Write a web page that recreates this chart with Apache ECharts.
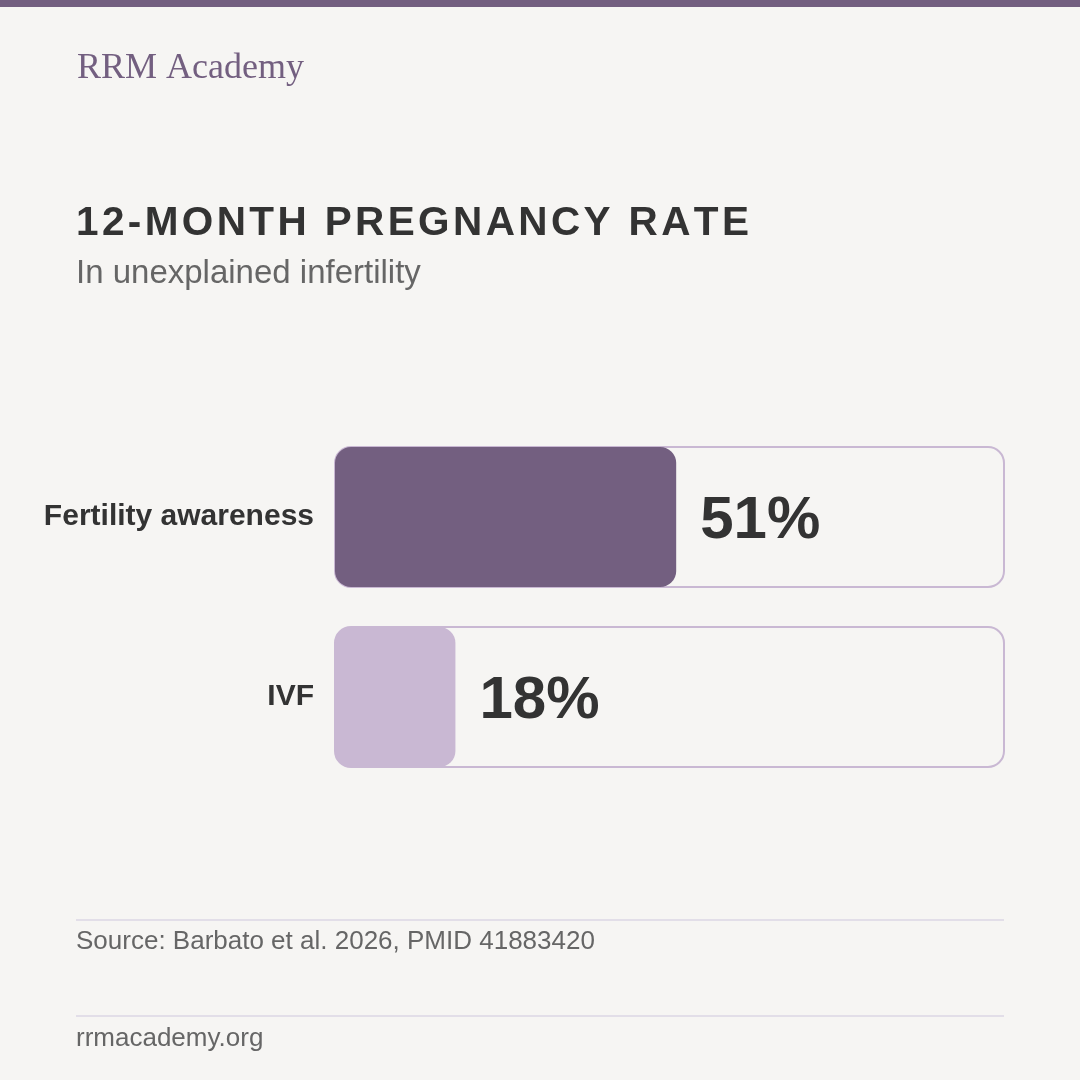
<!DOCTYPE html>
<html><head><meta charset="utf-8">
<script src="https://cdn.jsdelivr.net/npm/echarts@6/dist/echarts.min.js"></script>
<style>html,body{margin:0;padding:0;background:#f6f5f3}#c{width:1080px;height:1080px}</style>
</head><body><div id="c"></div>
<script>
const categories = ["Fertility awareness", "IVF"];
const values = [51, 18];
const barColors = ["#735f80", "#c9b8d3"];
const titleText = '12-MONTH PREGNANCY RATE';

const chart = echarts.init(document.getElementById('c'));
chart.setOption({
  backgroundColor: '#f6f5f3',
  animation: false,
  grid: {left: 335, right: 76, top: 427, height: 360},
  xAxis: {type: 'value', min: 0, max: 100, show: false},
  yAxis: {type: 'category', data: categories, inverse: true,
    axisLine: {show: false}, axisTick: {show: false},
    axisLabel: {fontFamily: 'Liberation Sans, Arial', fontSize: 30, fontWeight: 'bold', color: '#333', margin: 21}},
  series: [{
    type: 'bar', barWidth: 140,
    data: values.map((v, i) => ({value: v, itemStyle: {color: barColors[i]}})),
    itemStyle: {borderRadius: 16},
    showBackground: true,
    backgroundStyle: {color: '#f6f5f3', borderColor: '#c9b8d3', borderWidth: 2, borderRadius: 16},
    label: {show: true, position: 'right', distance: 24, offset: [0, 4], formatter: '{c}%',
      fontFamily: 'Liberation Sans, Arial', fontSize: 60, fontWeight: 'bold', color: '#333'}
  }],
  graphic: [
    {type: 'rect', shape: {x: 0, y: 0, width: 1080, height: 7}, style: {fill: '#735f80'}},
    {type: 'text', left: 77, top: 51, style: {text: 'RRM Academy', font: '36px "Liberation Serif", serif', fill: '#735f80'}},
    {type: 'text', left: 76, top: 203, style: {text: titleText.split('').join('\u200A'), font: 'bold 40.5px "Liberation Sans", Arial', fill: '#333'}},
    {type: 'text', left: 76, top: 257, style: {text: 'In unexplained infertility', font: '33px "Liberation Sans", Arial', fill: '#666'}},
    {type: 'rect', shape: {x: 76, y: 919, width: 928, height: 2}, style: {fill: '#e2dee8'}},
    {type: 'text', left: 76, top: 929, style: {text: 'Source: Barbato et al. 2026, PMID 41883420', font: '26px "Liberation Sans", Arial', fill: '#666'}},
    {type: 'rect', shape: {x: 76, y: 1015, width: 928, height: 2}, style: {fill: '#e2dee8'}},
    {type: 'text', left: 76, top: 1026, style: {text: 'rrmacademy.org', font: '26px "Liberation Sans", Arial', fill: '#666'}}
  ]
});
</script></body></html>
